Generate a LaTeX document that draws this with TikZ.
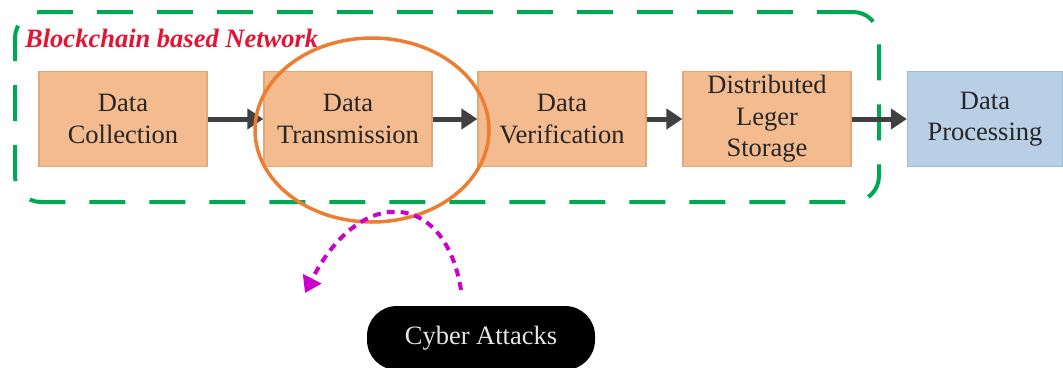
\documentclass[tikz,border=0pt]{standalone}
\usepackage{fontspec}
\setmainfont{Liberation Serif}
\usetikzlibrary{arrows.meta,shapes.geometric}
\definecolor{boxfill}{RGB}{244,187,143}
\definecolor{boxline}{RGB}{228,168,120}
\definecolor{bluefill}{RGB}{184,207,229}
\definecolor{blueline}{RGB}{160,188,214}
\definecolor{grn}{RGB}{0,168,84}
\definecolor{ttl}{RGB}{230,20,50}
\definecolor{orng}{RGB}{237,125,49}
\definecolor{arr}{RGB}{64,64,64}
\definecolor{mag}{RGB}{204,0,204}
\begin{document}
\begin{tikzpicture}[x=1pt,y=-1pt,
  stepbox/.style={draw=boxline,fill=boxfill,line width=1.2pt,minimum width=168pt,minimum height=95pt,inner sep=0pt,align=center,font=\fontsize{26.5}{31.5}\selectfont,text=black!85},
  procbox/.style={stepbox,draw=blueline,fill=bluefill},
  flow/.style={draw=arr,line width=5pt,-{Triangle[length=16pt,width=20pt]}},
  attack/.style={draw=mag,line width=4pt,dash pattern=on 8pt off 6pt,-{Triangle[length=16pt,width=20pt]}}]
\useasboundingbox (0,0) rectangle (1063,367);
% container
\node[draw=grn,line width=4pt,dash pattern=on 36pt off 24pt,rounded corners=26pt,minimum width=864pt,minimum height=190pt,inner sep=0pt] (net) at (447,107) {};
\node[anchor=west,text=ttl,font=\fontsize{26.5}{28}\selectfont\bfseries\itshape,inner sep=0pt] (title) at (25,38) {Blockchain based Network};
% boxes
\node[stepbox] (col) at (123,119) {Data\\Collection};
\node[stepbox] (tra) at (348,119) {Data\\Transmission};
\node[stepbox] (ver) at (562,119) {Data\\Verification};
\node[stepbox] (sto) at (767,119) {Distributed\\Leger\\Storage};
\node[procbox,minimum width=155pt] (pro) at (985,119) {Data\\Processing};
% arrows
\draw[flow] (col) -- (tra);
\draw[flow] (tra) -- (ver);
\draw[flow] (ver) -- (sto);
\draw[flow] (sto) -- (pro);
% highlight ellipse
\node[draw=orng,line width=3.5pt,ellipse,minimum width=234pt,minimum height=184pt,inner sep=0pt] (hl) at (372,130) {};
% cyber attacks
\node[fill=black,rounded corners=30pt,minimum width=228pt,minimum height=64pt,inner sep=0pt,text=white!90!black,font=\fontsize{26.5}{30}\selectfont] (cyb) at (481,338) {Cyber Attacks};
\coordinate (s) at (461,290);
\coordinate (e) at (305,293);
\draw[attack] (s) .. controls (445,190) and (360,185) .. (e);
\end{tikzpicture}
\end{document}
